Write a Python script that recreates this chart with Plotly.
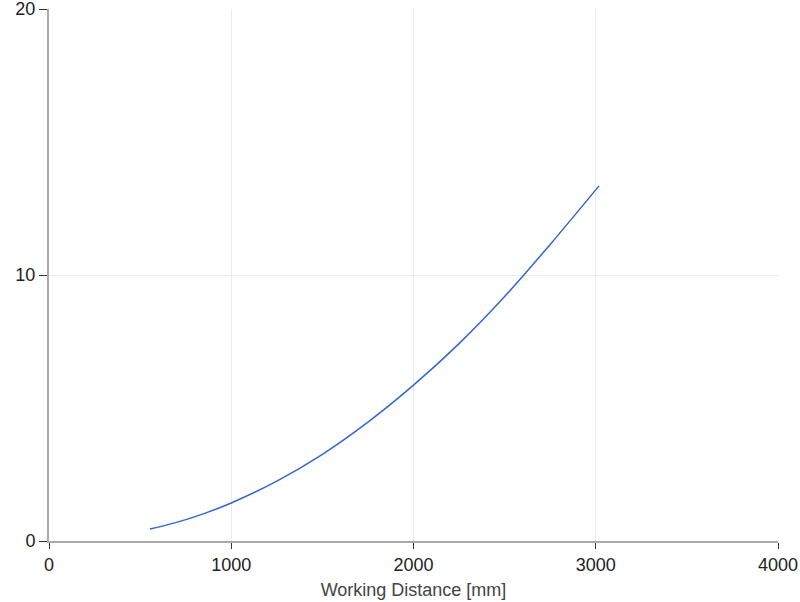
import plotly.graph_objects as go

working_distance = [554, 700, 850, 1000, 1250, 1500, 1750, 2000, 2250, 2500, 2750, 3018]
field_value = [0.45, 0.70, 1.03, 1.43, 2.25, 3.26, 4.47, 5.86, 7.42, 9.19, 11.15, 13.35]

x_ticks = [0, 1000, 2000, 3000, 4000]
y_ticks = [0, 10, 20]

fig = go.Figure()
fig.add_trace(go.Scatter(
    x=working_distance, y=field_value, mode="lines",
    line=dict(color="#3366cc", width=1.5, shape="spline", smoothing=1),
    hoverinfo="skip", showlegend=False,
))

fig.update_layout(
    width=800, height=602,
    margin=dict(l=49, r=22, t=9, b=61),
    paper_bgcolor="white", plot_bgcolor="white",
    font=dict(family="Liberation Sans, Arial, sans-serif", size=18, color="#222"),
    showlegend=False,
)
fig.update_xaxes(
    range=[0, 4000], tickvals=x_ticks, ticktext=[str(v) for v in x_ticks],
    automargin=False, ticklabeloverflow="allow",
    showline=True, linecolor="#aaaaaa", linewidth=2,
    showgrid=True, gridcolor="#ebebeb", gridwidth=1,
    ticks="outside", ticklen=6, tickcolor="#333", tickwidth=1,
    zeroline=False,
    title=dict(text="Working Distance [mm]", font=dict(size=18, color="#444"), standoff=10),
)
fig.update_yaxes(
    range=[0, 20], tickvals=y_ticks, ticktext=[str(v) for v in y_ticks],
    automargin=False, ticklabeloverflow="allow",
    showline=True, linecolor="#aaaaaa", linewidth=2,
    showgrid=True, gridcolor="#ebebeb", gridwidth=1,
    ticks="outside", ticklen=8, tickcolor="#333", tickwidth=1,
    zeroline=False,
)

fig.write_html(
    "out.html",
    config={"displayModeBar": False},
    post_script="document.body.style.margin='0';document.body.style.overflow='hidden';",
)
